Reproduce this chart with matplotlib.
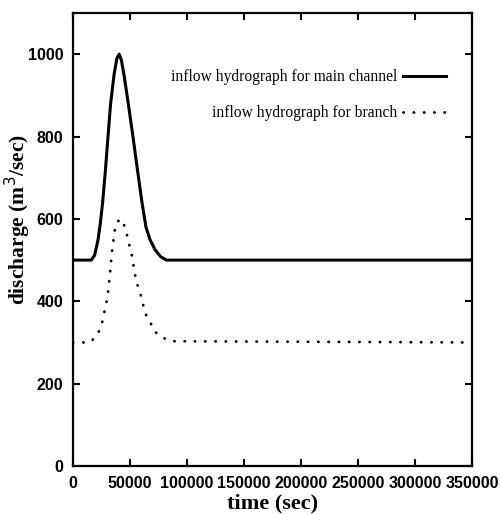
import matplotlib
matplotlib.use('Agg')
import matplotlib.pyplot as plt

# main channel inflow hydrograph
t_main = [0, 10000, 16000, 19000, 22000, 24000, 26000, 28500, 30700, 33000,
          36000, 38500, 40500, 42500, 45000, 48500, 52600, 56500, 60500,
          64000, 67500, 72000, 77000, 82000, 350000]
q_main = [500, 500, 500, 512, 550, 590, 640, 720, 800, 880,
          950, 990, 1000, 985, 945, 880, 800, 720, 640,
          580, 550, 525, 508, 500, 500]

# branch inflow hydrograph
t_branch = [0, 14000, 18400, 22200, 25200, 26600, 29000, 30700, 32400, 33900,
            36200, 37400, 41200, 44700, 47100, 49100, 51500, 54400, 55900,
            58800, 61100, 63100, 67500, 71900, 79000, 87700, 350000]
q_branch = [300, 300, 309, 324, 343, 363, 392, 421, 465, 513,
            564, 586, 600, 586, 564, 540, 513, 465, 445,
            421, 397, 372, 350, 326, 311, 303, 300]

xticks = [0, 50000, 100000, 150000, 200000, 250000, 300000, 350000]
yticks = [0, 200, 400, 600, 800, 1000]

fig = plt.figure(figsize=(5.02, 5.14), dpi=100)
ax = fig.add_axes([73/502, 1 - 466/514, 399/502, 453/514])

ax.plot(t_main, q_main, color='black', lw=2.2,
        label='inflow hydrograph for main channel')
ax.plot(t_branch, q_branch, color='black', lw=2.0,
        linestyle=(0, (0.1, 3.6)), dash_capstyle='round',
        label='inflow hydrograph for branch')

ax.set_xlim(0, 350000)
ax.set_ylim(0, 1100)
ax.set_xticks(xticks)
ax.set_yticks(yticks)
ax.set_xticklabels([str(v) for v in xticks], family='Liberation Sans',
                   fontweight='bold', fontsize=11.5)
ax.set_yticklabels([str(v) for v in yticks], family='Liberation Sans',
                   fontweight='bold', fontsize=11.5)
ax.tick_params(direction='in', length=5, width=1.5, top=True, right=True)
ax.tick_params(axis='x', pad=7)
ax.tick_params(axis='y', pad=7)
for s in ax.spines.values():
    s.set_linewidth(1.6)

ax.set_xlabel('time (sec)', family='Liberation Serif', fontweight='bold',
              fontsize=16, labelpad=2)
ax.set_ylabel('discharge (m$^3$/sec)', family='Liberation Serif',
              fontweight='bold', fontsize=15.5)
ax.yaxis.set_label_coords(-0.1, 0.543)

leg = ax.legend(loc='upper right', bbox_to_anchor=(0.955, 0.893),
                frameon=False, markerfirst=False, borderpad=0,
                handlelength=2.8, handletextpad=0.35, labelspacing=1.3,
                prop={'family': 'Liberation Serif', 'size': 11.2})

fig.savefig('out.png', dpi=100)
